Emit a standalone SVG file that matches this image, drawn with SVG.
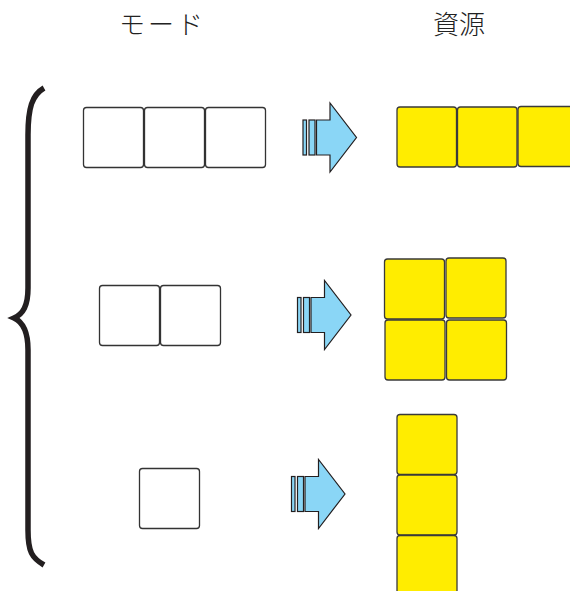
<svg xmlns="http://www.w3.org/2000/svg" width="570" height="591" viewBox="0 0 570 591">
<style>
.lbl{font-family:"Noto Sans CJK JP","Noto Sans CJK SC",sans-serif;font-size:26px;fill:#222;font-weight:300}
.w{fill:#fff;stroke:#333;stroke-width:1.3}
.y{fill:#ffed00;stroke:#3a3a3a;stroke-width:1.3}
.a{fill:#8ad6f6;stroke:#231f20;stroke-width:1.2;stroke-linejoin:miter}
.brace{fill:none;stroke:#231f20;stroke-width:5.5;stroke-linecap:butt}
</style>
<defs>
<g id="arrow">
<rect class="a" x="0" y="-17.5" width="3.5" height="35"/>
<rect class="a" x="6" y="-17.5" width="6" height="35"/>
<polygon class="a" points="13.5,-17.5 27,-17.5 27,-34.5 53.5,0 27,34.5 27,17.5 13.5,17.5"/>
</g>
</defs>
<g id="labels">
<text class="lbl" x="119" y="34" letter-spacing="3">モード</text>
<text class="lbl" x="433" y="34">資源</text>
</g>
<g id="brace">
<path class="brace" d="M44,88 C32,95 28,108 28,135 L28,288 C28,306 23,314 14,318 C23,322 28,331 28,350 L28,530 C28,552 32,558 44,565"/>
</g>
<g id="mode1">
<rect class="w" x="83.5" y="107.5" width="60" height="60" rx="3"/>
<rect class="w" x="144.5" y="107.5" width="60" height="60" rx="3"/>
<rect class="w" x="205.5" y="107.5" width="60" height="60" rx="3"/>
</g>
<g id="mode2">
<rect class="w" x="99.5" y="285.5" width="60" height="60" rx="3"/>
<rect class="w" x="160.5" y="285.5" width="60" height="60" rx="3"/>
</g>
<g id="mode3">
<rect class="w" x="139.5" y="468.5" width="60" height="60" rx="3"/>
</g>
<g id="res1">
<rect class="y" x="397" y="107" width="59.5" height="60" rx="3"/>
<rect class="y" x="457.5" y="107" width="59.5" height="60" rx="3"/>
<rect class="y" x="518" y="106.5" width="60" height="60" rx="3"/>
</g>
<g id="res2">
<rect class="y" x="384.5" y="259" width="60" height="60" rx="3"/>
<rect class="y" x="446" y="258" width="60" height="60" rx="3"/>
<rect class="y" x="385" y="320" width="60" height="60" rx="3"/>
<rect class="y" x="446.5" y="320" width="60" height="60" rx="3"/>
</g>
<g id="res3">
<rect class="y" x="397" y="414.5" width="60" height="60" rx="3"/>
<rect class="y" x="397" y="475" width="60" height="60" rx="3"/>
<rect class="y" x="397" y="535.5" width="60" height="60" rx="3"/>
</g>
<g id="connectors">
<use href="#arrow" x="303" y="137.5"/>
<use href="#arrow" x="297.5" y="315"/>
<use href="#arrow" x="291.5" y="494"/>
</g>
</svg>
